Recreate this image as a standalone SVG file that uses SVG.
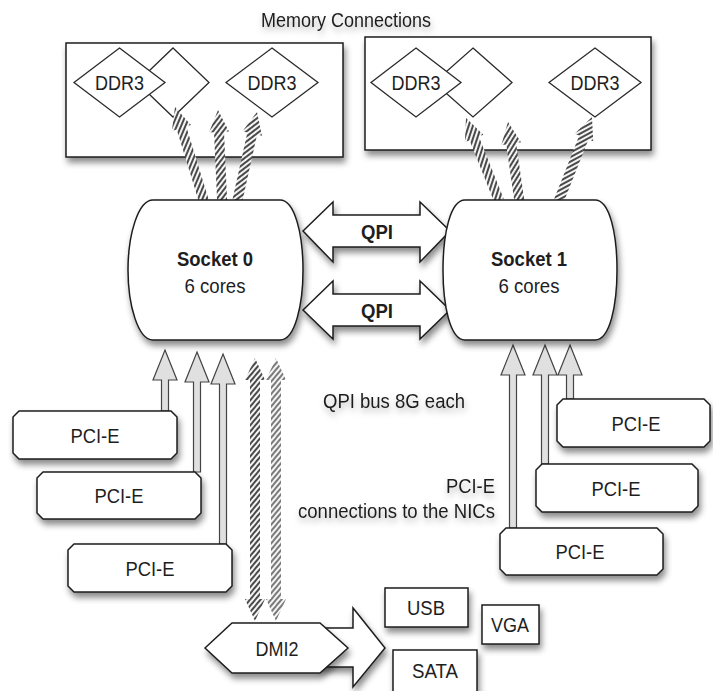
<svg xmlns="http://www.w3.org/2000/svg" width="713" height="691" viewBox="0 0 713 691">
  <style>
    text { font-family: "Liberation Sans", Arial, sans-serif; fill: #1e1e1e; font-size: 20.5px; }
    .lbl { text-anchor: middle; }
    .bold { font-weight: bold; }
    .box { fill: #fff; stroke: #1e1e1e; stroke-width: 1.5; }
    .dia { fill: #fff; stroke: #2a2a2a; stroke-width: 1.3; }
    .pci { fill: #e0e0e0; stroke: #444; stroke-width: 1.2; }
    .hatch { fill: url(#stripes); stroke: none; }
    .hatch2 { fill: url(#stripes2); stroke: none; }
    .shadow { filter: url(#drop); }
    .tshadow { filter: url(#tdrop); }
  </style>
  <defs>
    <filter id="drop" x="-20%" y="-20%" width="150%" height="170%">
      <feDropShadow dx="2" dy="5" stdDeviation="3" flood-color="#000" flood-opacity="0.45"/>
    </filter>
    <filter id="tdrop" x="-10%" y="-30%" width="120%" height="190%">
      <feDropShadow dx="1" dy="4" stdDeviation="3" flood-color="#000" flood-opacity="0.3"/>
    </filter>
    <pattern id="stripes" width="4" height="4" patternUnits="userSpaceOnUse" patternTransform="rotate(40)">
      <rect width="4" height="4" fill="#f4f4f4"/>
      <rect width="2" height="4" fill="#4a4a4a"/>
    </pattern>
    <pattern id="stripes2" width="4" height="4" patternUnits="userSpaceOnUse" patternTransform="rotate(40)">
      <rect width="4" height="4" fill="#f4f4f4"/>
      <rect width="2" height="4" fill="#7a7a7a"/>
    </pattern>
  </defs>

  <rect width="713" height="691" fill="#fff"/>

  <text id="title" class="lbl tshadow" x="346" y="27" textLength="170" lengthAdjust="spacingAndGlyphs">Memory Connections</text>

  <!-- memory banks -->
  <g id="mem0">
    <rect class="box shadow" x="66" y="43" width="277" height="114"/>
    <polygon class="dia" points="173,48 209,82.5 173,117 137,82.5"/>
    <polygon class="dia" points="119.5,48 165,82.5 119.5,117 74,82.5"/>
    <text class="lbl" x="119.5" y="90" textLength="49" lengthAdjust="spacingAndGlyphs">DDR3</text>
    <polygon class="dia" points="272,48 318,82.5 272,117 226,82.5"/>
    <text class="lbl" x="272" y="90" textLength="49" lengthAdjust="spacingAndGlyphs">DDR3</text>
  </g>
  <g id="mem1">
    <rect class="box shadow" x="365" y="37" width="286" height="113"/>
    <polygon class="dia" points="473,48 512,82.5 473,117 434,82.5"/>
    <polygon class="dia" points="416,48 461,82.5 416,117 371,82.5"/>
    <text class="lbl" x="416" y="90" textLength="49" lengthAdjust="spacingAndGlyphs">DDR3</text>
    <polygon class="dia" points="595,48 641,82.5 595,117 549,82.5"/>
    <text class="lbl" x="595" y="90" textLength="49" lengthAdjust="spacingAndGlyphs">DDR3</text>
  </g>

  <g id="connectors">
    <!-- memory channels -->
    <polygon class="hatch" transform="translate(175,107) rotate(-17.1)" points="0,0 10,22 5,22 5,98 -5,98 -5,22 -10,22"/>
    <polygon class="hatch" transform="translate(218,110) rotate(-2.6)" points="0,0 10,22 5,22 5,91 -5,91 -5,22 -10,22"/>
    <polygon class="hatch" transform="translate(257,112) rotate(12.5)" points="0,0 10,22 5,22 5,91 -5,91 -5,22 -10,22"/>
    <polygon class="hatch" transform="translate(466,118) rotate(-21.8)" points="0,0 10,22 5,22 5,89 -5,89 -5,22 -10,22"/>
    <polygon class="hatch" transform="translate(508,122) rotate(-8.2)" points="0,0 10,22 5,22 5,80 -5,80 -5,22 -10,22"/>
    <polygon class="hatch" transform="translate(592,117) rotate(21.6)" points="0,0 10,22 5,22 5,90 -5,90 -5,22 -10,22"/>

    <!-- QPI links -->
    <polygon class="box shadow" points="303,231 333,202 333,215 420,215 420,202 450,231 420,262 420,247 333,247 333,262"/>
    <polygon class="box shadow" points="303,310 333,281 333,294 420,294 420,281 450,310 420,339 420,326 333,326 333,339"/>

    <!-- PCI-E lanes, socket 0 -->
    <polygon class="pci" points="165,350 177,380 168.5,380 168.5,411 161.5,411 161.5,380 153,380"/>
    <polygon class="pci" points="197,352 209,382 200.5,382 200.5,472 193.5,472 193.5,382 185,382"/>
    <polygon class="pci" points="223,354 235,384 226.5,384 226.5,544 219.5,544 219.5,384 211,384"/>
    <!-- PCI-E lanes, socket 1 -->
    <polygon class="pci" points="513,345 525,375 516.5,375 516.5,528 509.5,528 509.5,375 501,375"/>
    <polygon class="pci" points="545,345 557,375 548.5,375 548.5,464 541.5,464 541.5,375 533,375"/>
    <polygon class="pci" points="570,345 582,375 573.5,375 573.5,399 566.5,399 566.5,375 558,375"/>

    <!-- DMI2 links -->
    <polygon class="hatch" points="255,358 265,380 260,380 260,599 265,599 255,621 245,599 250,599 250,380 245,380"/>
    <polygon class="hatch2" points="276,358 286,380 281,380 281,599 286,599 276,621 266,599 271,599 271,380 266,380"/>

    <!-- chipset fan-out -->
    <polygon class="box shadow" points="318,628 353,628 353,608 385,648 353,687 353,667 318,667"/>
  </g>

  <g id="socket0">
    <path class="box shadow" d="M153,200 H280 C295,200 303,235 303,270 C303,305 295,340 280,340 H153 C138,340 128,305 128,270 C128,235 138,200 153,200 Z"/>
    <text class="lbl bold" x="215" y="266" textLength="76" lengthAdjust="spacingAndGlyphs">Socket 0</text>
    <text class="lbl" x="215" y="293" textLength="61" lengthAdjust="spacingAndGlyphs">6 cores</text>
  </g>
  <g id="socket1">
    <path class="box shadow" d="M465,200 H595 C610,200 617,235 617,270 C617,305 610,340 595,340 H465 C450,340 443,305 443,270 C443,235 450,200 465,200 Z"/>
    <text class="lbl bold" x="529" y="266" textLength="76" lengthAdjust="spacingAndGlyphs">Socket 1</text>
    <text class="lbl" x="529" y="293" textLength="61" lengthAdjust="spacingAndGlyphs">6 cores</text>
  </g>

  <!-- QPI link labels -->
  <text class="lbl bold" x="377" y="239" textLength="32" lengthAdjust="spacingAndGlyphs">QPI</text>
  <text class="lbl bold" x="377" y="318" textLength="32" lengthAdjust="spacingAndGlyphs">QPI</text>

  <text class="lbl tshadow" x="394" y="408" textLength="142" lengthAdjust="spacingAndGlyphs">QPI bus 8G each</text>
  <text class="tshadow" x="495" y="493" text-anchor="end" textLength="49" lengthAdjust="spacingAndGlyphs">PCI-E</text>
  <text class="tshadow" x="495" y="518" text-anchor="end" textLength="197" lengthAdjust="spacingAndGlyphs">connections to the NICs</text>

  <g id="pcie0a">
    <polygon class="box shadow" points="19,411 171,411 177,417 177,453 171,459 19,459 13,453 13,417"/>
    <text class="lbl" x="95" y="443" textLength="49" lengthAdjust="spacingAndGlyphs">PCI-E</text>
  </g>
  <g id="pcie0b">
    <polygon class="box shadow" points="43,472 195,472 201,478 201,513 195,519 43,519 37,513 37,478"/>
    <text class="lbl" x="119" y="503" textLength="49" lengthAdjust="spacingAndGlyphs">PCI-E</text>
  </g>
  <g id="pcie0c">
    <polygon class="box shadow" points="74,544 226,544 232,550 232,586 226,592 74,592 68,586 68,550"/>
    <text class="lbl" x="150" y="576" textLength="49" lengthAdjust="spacingAndGlyphs">PCI-E</text>
  </g>
  <g id="pcie1a">
    <polygon class="box shadow" points="563,399 704,399 710,405 710,441 704,447 563,447 557,441 557,405"/>
    <text class="lbl" x="636" y="431" textLength="49" lengthAdjust="spacingAndGlyphs">PCI-E</text>
  </g>
  <g id="pcie1b">
    <polygon class="box shadow" points="542,464 692,464 698,470 698,506 692,512 542,512 536,506 536,470"/>
    <text class="lbl" x="616" y="496" textLength="49" lengthAdjust="spacingAndGlyphs">PCI-E</text>
  </g>
  <g id="pcie1c">
    <polygon class="box shadow" points="506,528 657,528 663,534 663,569 657,575 506,575 500,569 500,534"/>
    <text class="lbl" x="580" y="559" textLength="49" lengthAdjust="spacingAndGlyphs">PCI-E</text>
  </g>

  <g id="dmi2">
    <polygon class="box shadow" points="205,648 232,623 320,623 348,648 320,673 232,673"/>
    <text class="lbl" x="277" y="656" textLength="43" lengthAdjust="spacingAndGlyphs">DMI2</text>
  </g>
  <g id="usb">
    <rect class="box shadow" x="385" y="588" width="83" height="39"/>
    <text class="lbl" x="426" y="615" textLength="38" lengthAdjust="spacingAndGlyphs">USB</text>
  </g>
  <g id="vga">
    <rect class="box shadow" x="482" y="605" width="57" height="39"/>
    <text class="lbl" x="510" y="632" textLength="38" lengthAdjust="spacingAndGlyphs">VGA</text>
  </g>
  <g id="sata">
    <rect class="box shadow" x="393" y="650" width="84" height="42"/>
    <text class="lbl" x="435" y="678" textLength="46" lengthAdjust="spacingAndGlyphs">SATA</text>
  </g>
</svg>
